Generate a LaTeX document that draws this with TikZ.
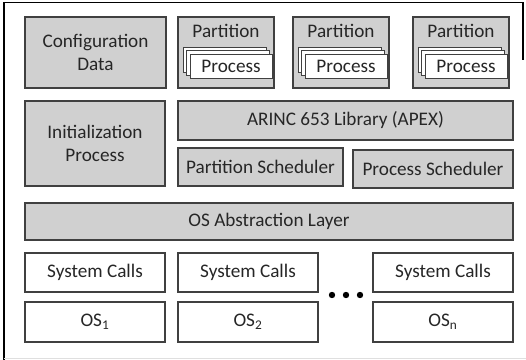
\documentclass[tikz,border=0pt]{standalone}
\usepackage{fontspec}
\setmainfont{Carlito}
\usetikzlibrary{fit,shadows}
\definecolor{boxfill}{HTML}{D0D0D0}
\definecolor{edge}{HTML}{404040}
\definecolor{txt}{HTML}{262626}
\definecolor{shade}{HTML}{9A9A9A}
\begin{document}
\begin{tikzpicture}[x=0.75pt,y=-0.75pt,
  basebox/.style={draw=edge, line width=0.8pt, inner sep=0pt,
    drop shadow={shadow xshift=1pt, shadow yshift=-1pt, fill=shade, opacity=1}},
  gbox/.style={basebox, fill=boxfill},
  wbox/.style={basebox, fill=white},
  pbox/.style={draw=edge, line width=0.7pt, fill=white, inner sep=0pt},
  lbl/.style={font=\fontsize{14.4}{16.8}\selectfont, text=txt, align=center, inner sep=0pt},
  dotmark/.style={circle, fill=black, inner sep=0pt, minimum size=4.8pt}]
\useasboundingbox (0,0) rectangle (526,360);
% outer frame
\coordinate (fbl) at (4,360);
\coordinate (ftl) at (4,2.5);
\coordinate (ftr) at (523,2.5);
\coordinate (frb) at (523,60);
\draw[black, line width=1pt] (fbl) -- (ftl) -- (ftr) -- (frb);
\coordinate (bl) at (4,358.5);
\coordinate (br) at (526,358.5);
\draw[gray!25, line width=0.6pt] (bl) -- (br);

% Configuration data
\node[gbox, fit={(25,17)(166,88)}] (cfg) {};
\node[lbl] at (cfg.center) {Configuration\\Data};

% Partitions
\foreach \dx/\n in {0/1,115/2,235/3}{
  \node[gbox, fit={({178+\dx},17)({274+\dx},88)}] (part\n) {};
  \node[lbl] (plbl\n) at ({226+\dx},31) {Partition};
  \node[pbox, fit={({183+\dx},47)({266+\dx},72)}] (pa\n) {};
  \node[pbox, fit={({186+\dx},50)({269+\dx},75)}] (pb\n) {};
  \node[pbox, fit={({190+\dx},54)({272+\dx},78)}] (pc\n) {};
  \node[lbl] at (pc\n.center) {Process};
}

% Initialization process
\node[gbox, fit={(25,101)(165,186)}] (init) {};
\node[lbl] at (init.center) {Initialization\\Process};

% ARINC library
\node[gbox, fit={(178,101)(513,140)}] (apex) {};
\node[lbl] at (apex.center) {ARINC 653 Library (APEX)};

% Schedulers
\node[gbox, fit={(178,148)(343,186)}] (psched) {};
\node[lbl] at (psched.center) {Partition Scheduler};
\node[gbox, fit={(353,150)(513,188)}] (prsched) {};
\node[lbl] at (prsched.center) {Process Scheduler};

% OS abstraction layer
\node[gbox, fit={(25,203)(513,240)}] (osal) {};
\node[lbl] at (osal.center) {OS Abstraction Layer};

% System calls and OS
\node[wbox, fit={(25,253)(165,292)}] (sc1) {};
\node[lbl] at (sc1.center) {System Calls};
\node[wbox, fit={(178,253)(318,292)}] (sc2) {};
\node[lbl] at (sc2.center) {System Calls};
\node[wbox, fit={(373,253)(513,292)}] (scn) {};
\node[lbl] at (scn.center) {System Calls};

\node[wbox, fit={(25,302)(165,342)}] (os1) {};
\node[lbl] at (os1.center) {OS\textsubscript{1}};
\node[wbox, fit={(178,302)(318,342)}] (os2) {};
\node[lbl] at (os2.center) {OS\textsubscript{2}};
\node[wbox, fit={(373,302)(513,342)}] (osn) {};
\node[lbl] at (osn.center) {OS\textsubscript{n}};

% dots
\node[dotmark] (d1) at (332,295) {};
\node[dotmark] (d2) at (346,295) {};
\node[dotmark] (d3) at (360,295) {};
\end{tikzpicture}
\end{document}
